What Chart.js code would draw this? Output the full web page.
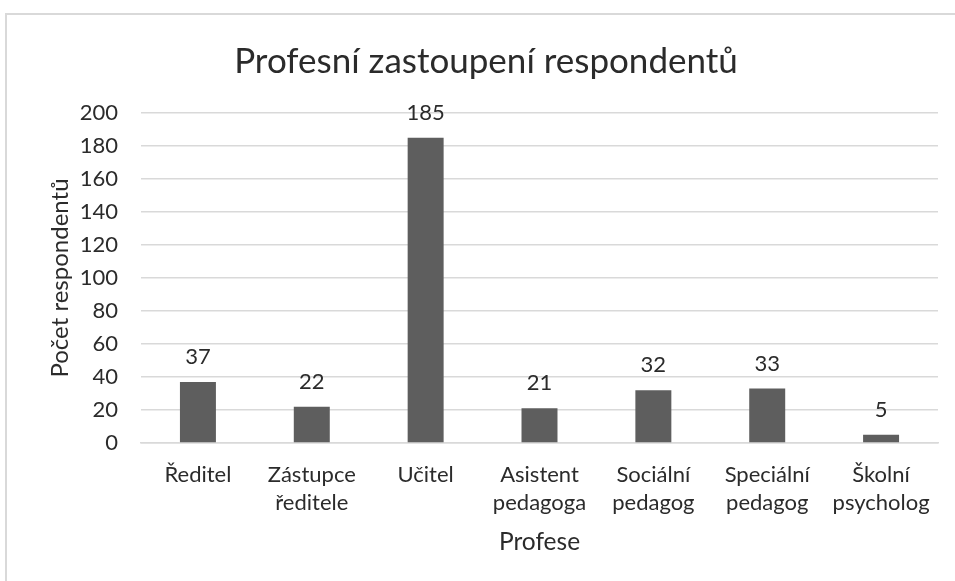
<!DOCTYPE html>
<html>
<head>
<meta charset="utf-8">
<script src="https://cdn.jsdelivr.net/npm/chart.js@4/dist/chart.umd.min.js"></script>
<style>
  html, body { margin: 0; padding: 0; background: #fff; overflow: hidden; }
  #frame { position: absolute; left: 5px; top: 13px; width: 1000px; height: 1000px; border: 2px solid #d9d9d9; box-sizing: border-box; }
  #wrap { position: absolute; left: 0; top: 0; width: 955px; height: 581px; }
</style>
</head>
<body>
<div id="frame"></div>
<div id="wrap"><canvas id="c" width="955" height="581"></canvas></div>
<script>
const categories = [["Ředitel"], ["Zástupce", "ředitele"], ["Učitel"], ["Asistent", "pedagoga"], ["Sociální", "pedagog"], ["Speciální", "pedagog"], ["Školní", "psycholog"]];
const values = [37, 22, 185, 21, 32, 33, 5];
const yTicks = [0, 20, 40, 60, 80, 100, 120, 140, 160, 180, 200];

const FONT = "Lato, 'Open Sans', sans-serif";
const TXT = '#2b2b2b';

const dataLabels = {
  id: 'dataLabels',
  afterDatasetsDraw(chart) {
    const ctx = chart.ctx;
    const meta = chart.getDatasetMeta(0);
    ctx.save();
    ctx.font = '22px ' + FONT;
    ctx.fillStyle = TXT;
    ctx.textAlign = 'center';
    ctx.textBaseline = 'middle';
    meta.data.forEach((bar, i) => {
      ctx.fillText(String(values[i]), bar.x, bar.y - 25);
    });
    ctx.restore();
  }
};

new Chart(document.getElementById('c'), {
  type: 'bar',
  data: {
    labels: categories,
    datasets: [{
      data: values,
      backgroundColor: '#5e5e5e',
      borderWidth: 0,
      barPercentage: 0.316,
      categoryPercentage: 1.0
    }]
  },
  options: {
    responsive: false,
    animation: false,
    layout: { padding: { left: 34, right: 17, top: 0, bottom: 0 } },
    plugins: {
      legend: { display: false },
      tooltip: { enabled: false },
      title: {
        display: true,
        text: 'Profesní zastoupení respondentů',
        color: TXT,
        font: { family: FONT, size: 35, weight: 'normal', lineHeight: 1.2 },
        padding: { top: 41, bottom: 30 }
      }
    },
    scales: {
      x: {
        grid: { display: false, drawTicks: false },
        border: { display: true, color: '#d9d9d9', width: 1.5 },
        ticks: { color: TXT, font: { family: FONT, size: 22, lineHeight: 1.27 }, padding: 18, maxRotation: 0, autoSkip: false },
        title: { display: true, text: 'Profese', color: TXT, font: { family: FONT, size: 24.5, lineHeight: 1.2 }, padding: { top: 0, bottom: 24 } },
        afterFit(scale) { scale.height = 138; }
      },
      y: {
        min: 0, max: 200,
        afterBuildTicks(scale) { scale.ticks = yTicks.map(v => ({ value: v })); },
        grid: { color: '#d9d9d9', lineWidth: 1.5, drawTicks: false },
        border: { display: false },
        ticks: { color: TXT, font: { family: FONT, size: 22 }, padding: 23 },
        title: { display: true, text: 'Počet respondentů', color: TXT, font: { family: FONT, size: 24, lineHeight: 1.2 }, padding: { top: 12, bottom: 0 } },
        afterFit(scale) { scale.width = 107; }
      }
    }
  },
  plugins: [dataLabels]
});
</script>
</body>
</html>
